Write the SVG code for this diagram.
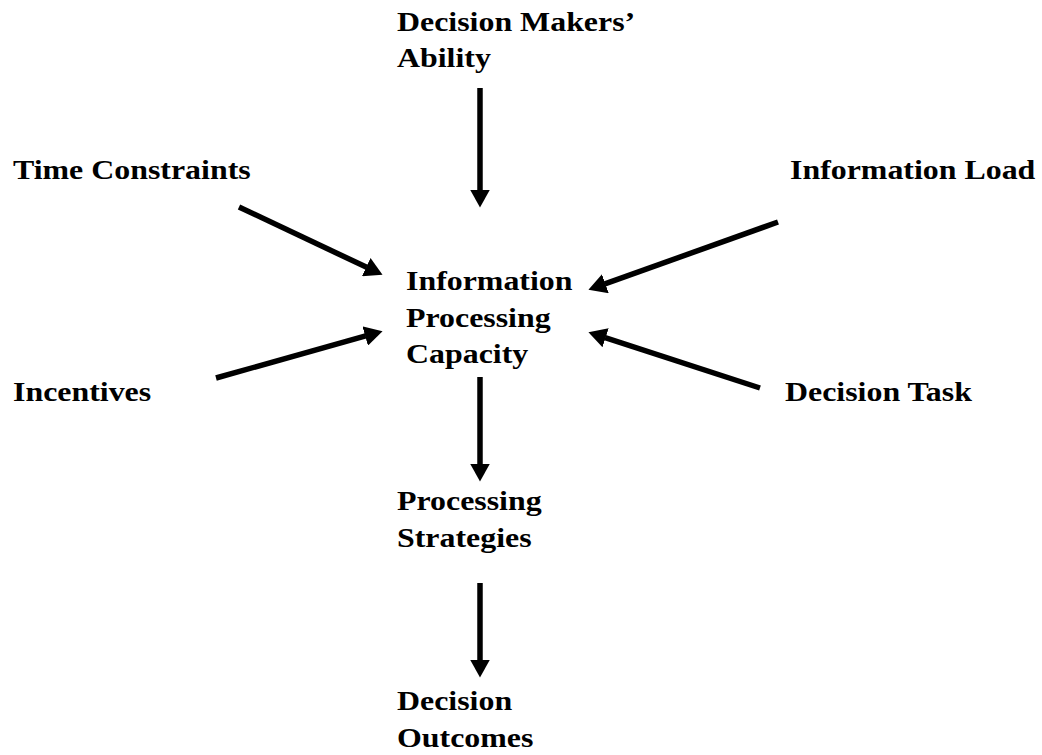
<svg xmlns="http://www.w3.org/2000/svg" width="1042" height="755" viewBox="0 0 1042 755">
<style>
text{font-family:"Liberation Serif","Times New Roman",serif;font-weight:bold;font-size:27.5px;fill:#000}
.c{stroke:#000;stroke-width:5.5;fill:none}
</style>
<defs>
<marker id="ah" markerUnits="userSpaceOnUse" viewBox="0 0 18 20" refX="0.5" refY="10" markerWidth="18" markerHeight="20" orient="auto">
<path d="M0,0 L18,10 L0,20 z" fill="#000"/>
</marker>
</defs>
<rect width="1042" height="755" fill="#fff"/>
<g id="connectors">
<path class="c" marker-end="url(#ah)" d="M480,88 L480,190"/>
<path class="c" marker-end="url(#ah)" d="M239,207 L366.7,267.3"/>
<path class="c" marker-end="url(#ah)" d="M216,378 L365.7,335.9"/>
<path class="c" marker-end="url(#ah)" d="M778,222 L604.9,283.9"/>
<path class="c" marker-end="url(#ah)" d="M760,388 L605.1,337.6"/>
<path class="c" marker-end="url(#ah)" d="M480,377 L480,464"/>
<path class="c" marker-end="url(#ah)" d="M480,583 L480,660"/>
</g>
<g id="ability"><text transform="matrix(1.16 0 0 1 397 31)">Decision Makers’</text><text transform="matrix(1.16 0 0 1 397 67)">Ability</text></g>
<g id="time"><text transform="matrix(1.16 0 0 1 13 179)">Time Constraints</text></g>
<g id="load"><text transform="matrix(1.16 0 0 1 790 179)">Information Load</text></g>
<g id="capacity"><text transform="matrix(1.16 0 0 1 406 290)">Information</text><text transform="matrix(1.16 0 0 1 406 327)">Processing</text><text transform="matrix(1.16 0 0 1 406 363)">Capacity</text></g>
<g id="incentives"><text transform="matrix(1.16 0 0 1 13 401)">Incentives</text></g>
<g id="task"><text transform="matrix(1.16 0 0 1 785 401)">Decision Task</text></g>
<g id="strategies"><text transform="matrix(1.16 0 0 1 397 510)">Processing</text><text transform="matrix(1.16 0 0 1 397 547)">Strategies</text></g>
<g id="outcomes"><text transform="matrix(1.16 0 0 1 397 710)">Decision</text><text transform="matrix(1.16 0 0 1 397 747)">Outcomes</text></g>
</svg>
